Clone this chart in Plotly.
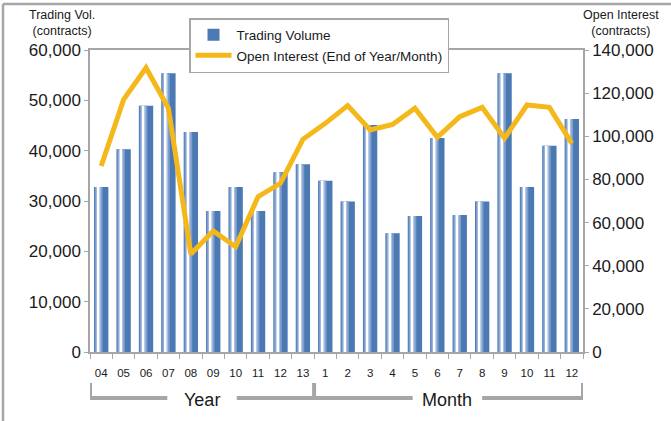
import plotly.graph_objects as go

categories = ["04", "05", "06", "07", "08", "09", "10", "11", "12", "13",
              "1", "2", "3", "4", "5", "6", "7", "8", "9", "10 ", "11 ", "12 "]
tick_text = ["04", "05", "06", "07", "08", "09", "10", "11", "12", "13",
             "1", "2", "3", "4", "5", "6", "7", "8", "9", "10", "11", "12"]

trading_volume = [32800, 40300, 48900, 55400, 43700, 28000, 32800, 28000, 35700, 37300,
                  34000, 29900, 45100, 23600, 27000, 42500, 27200, 29900, 55400, 32800,
                  41000, 46300]
open_interest = [86200, 117000, 131800, 113000, 45400, 56100, 48800, 72000, 78200, 98600,
                 106000, 114200, 102900, 105500, 113000, 99500, 109100, 113400, 99100, 114500,
                 113400, 96700]

FONT = "Liberation Sans, Arial, sans-serif"
BLUE = "#4b79b3"
GOLD = "#f5b81b"
GRAY = "#a6a6a6"

W, H = 671, 421
L, R, T, B = 90, 88, 50, 69
PW, PH = W - L - R, H - T - B


def px_x(px):
    return (px - L) / PW


def px_y(py):
    return (H - B - py) / PH


fig = go.Figure()

# bars with a shiny highlight built up from narrower overlays
fig.add_trace(go.Bar(x=categories, y=trading_volume, name="Trading Volume",
                     marker=dict(color=BLUE, line=dict(width=0)), width=0.64, offset=-0.32))
for w, c, color in [(0.34, -0.11, "#7d9dcd"), (0.2, -0.12, "#aec2e3"), (0.1, -0.13, "#e2e9f5"),
                    (0.05, -0.13, "#ffffff")]:
    fig.add_trace(go.Bar(x=categories, y=trading_volume, showlegend=False, hoverinfo="skip",
                         marker=dict(color=color, line=dict(width=0)), width=w, offset=c - w / 2))

fig.add_trace(go.Scatter(x=categories, y=open_interest, name="Open Interest (End of Year/Month)",
                         mode="lines", line=dict(color=GOLD, width=5), yaxis="y2"))

fig.update_layout(
    width=W, height=H,
    margin=dict(l=L, r=R, t=T, b=B),
    paper_bgcolor="white", plot_bgcolor="white",
    barmode="overlay",
    font=dict(family=FONT, color="#1a1a1a"),
    showlegend=True,
    legend=dict(x=px_x(189), y=px_y(18), xanchor="left", yanchor="top",
                bgcolor="white", bordercolor=GRAY, borderwidth=1.5,
                font=dict(size=13.5), tracegroupgap=0, itemwidth=36),
    xaxis=dict(type="category", tickvals=categories, ticktext=tick_text,
               showline=True, linecolor=GRAY, linewidth=1.5, mirror=True,
               ticks="outside", tickson="boundaries", ticklen=5, tickcolor=GRAY,
               tickfont=dict(size=11.5), ticklabelstandoff=9, showgrid=False,
               range=[-0.5, 21.5]),
    yaxis=dict(range=[0, 60000], dtick=10000, tickformat=",", showgrid=False,
               showline=True, linecolor=GRAY, linewidth=1.5, ticks="outside",
               ticklen=4, tickcolor=GRAY, tickfont=dict(size=17), zeroline=False),
    yaxis2=dict(range=[0, 140000], dtick=20000, tickformat=",", overlaying="y", side="right",
                showgrid=False, showline=True, linecolor=GRAY, linewidth=1.5,
                ticks="outside", ticklen=4, tickcolor=GRAY, tickfont=dict(size=17),
                zeroline=False),
)

# axis titles
for text, xp in [("Trading Vol.<br>(contracts)", 62), ("Open Interest<br>(contracts)", 621)]:
    fig.add_annotation(text=text, xref="paper", yref="paper", x=px_x(xp), y=px_y(23),
                       xanchor="center", yanchor="middle", showarrow=False,
                       font=dict(size=12.5))

# brackets under the x axis
line_style = dict(color=GRAY, width=4)
yb_top, yb = px_y(383), px_y(398)
for xs in [-0.5, 9.5, 21.5]:
    fig.add_shape(type="line", xref="x", yref="paper", x0=xs, x1=xs, y0=yb_top, y1=yb,
                  line=line_style)
for x0, x1 in [(-0.5, 2.95), (6.05, 13.9), (17.0, 21.5)]:
    fig.add_shape(type="line", xref="x", yref="paper", x0=x0, x1=x1, y0=yb, y1=yb,
                  line=line_style)
fig.add_annotation(text="Year", xref="x", yref="paper", x=4.5, y=px_y(400),
                   yanchor="middle", showarrow=False, font=dict(size=18))
fig.add_annotation(text="Month", xref="x", yref="paper", x=15.45, y=px_y(400),
                   yanchor="middle", showarrow=False, font=dict(size=18))

# outer frame (top and left only)
fig.add_shape(type="line", xref="paper", yref="paper", x0=px_x(3), x1=px_x(W), y0=px_y(4),
              y1=px_y(4), line=dict(color=GRAY, width=2.5))
fig.add_shape(type="line", xref="paper", yref="paper", x0=px_x(3), x1=px_x(3), y0=px_y(4),
              y1=px_y(H), line=dict(color=GRAY, width=2.5))

fig.write_html("out.html", config={"displayModeBar": False},
               post_script="document.body.style.margin='0';")
